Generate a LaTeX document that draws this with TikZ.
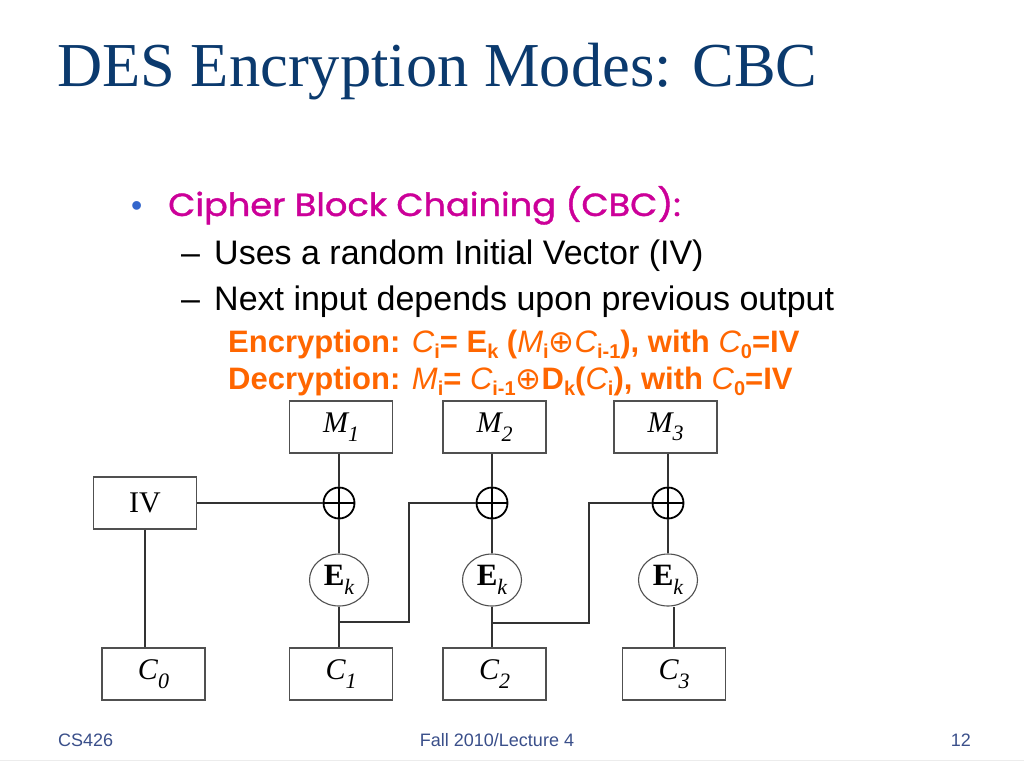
\documentclass[tikz,border=0pt]{standalone}
\usepackage{fontspec}
\setmainfont{Liberation Serif}
\newfontfamily\arialf{Liberation Sans}
\newfontfamily\comicf{Poppins}[FakeBold=1.2]
\newfontfamily\djf{DejaVu Sans}
\usetikzlibrary{shapes.geometric}
\definecolor{titleblue}{HTML}{0B3A6E}
\definecolor{magentac}{HTML}{CC0099}
\definecolor{orangec}{HTML}{FF6600}
\definecolor{bulletblue}{HTML}{3366CC}
\definecolor{footblue}{HTML}{3A4F8A}
\definecolor{boxgray}{HTML}{505050}
\definecolor{linegray}{HTML}{333333}
\newcommand\dsub[1]{\raisebox{-0.28em}{\fontsize{22}{22}\selectfont\itshape #1}}
\newcommand\osub[1]{\raisebox{-0.22em}{\fontsize{20}{20}\selectfont\bfseries #1}}
\tikzset{
  txt/.style={inner sep=0pt, anchor=base west},
  blockbox/.style={draw=boxgray, line width=1.3pt, minimum width=103pt, minimum height=52pt, inner sep=0pt, font=\fontsize{30}{30}\selectfont},
  encnode/.style={ellipse, draw=boxgray, line width=1.1pt, minimum width=59pt, minimum height=52pt, inner sep=0pt, font=\fontsize{31}{31}\selectfont},
  xornode/.style={circle, draw=black, line width=1.8pt, minimum size=31pt, inner sep=0pt,
    path picture={\draw[line width=1.8pt] (path picture bounding box.north) -- (path picture bounding box.south) (path picture bounding box.west) -- (path picture bounding box.east);}},
  wire/.style={draw=linegray, line width=1.3pt},
  foot/.style={inner sep=0pt, font=\arialf\fontsize{18}{18}\selectfont, text=footblue}
}
\begin{document}
\begin{tikzpicture}[x=1pt, y=-1pt]
\useasboundingbox (0,0) rectangle (1024,768);
\fill[white] (0,0) rectangle (1024,768);
% title and text
\node[txt, text=titleblue, font=\fontsize{62.5}{62.5}\selectfont] (title) at (57,86) {DES Encryption Modes: CBC};
\node[txt, text=bulletblue, font=\arialf\fontsize{32}{32}\selectfont] (bul) at (131,216) {•};
\node[txt, text=magentac, font=\comicf\fontsize{32}{32}\selectfont] (cbc) at (168,216) {\scalebox{1.1}[1]{Cipher Block Chaining (CBC):}};
\node[txt, font=\arialf\fontsize{34}{34}\selectfont] (d1) at (181,264) {–};
\node[txt, font=\arialf\fontsize{34}{34}\selectfont] (l1) at (214,264) {Uses a random Initial Vector (IV)};
\node[txt, font=\arialf\fontsize{34}{34}\selectfont] (d2) at (181,310) {–};
\node[txt, font=\arialf\fontsize{34}{34}\selectfont] (l2) at (214,310) {Next input depends upon previous output};
\node[txt, text=orangec, font=\arialf\bfseries\fontsize{31}{31}\selectfont] (enc) at (228,352)
  {Encryption: {\mdseries\itshape C}\osub{i}= E\osub{k} ({\mdseries\itshape M}\osub{i}{\djf\mdseries ⊕}{\mdseries\itshape C}\osub{i-1}), with {\mdseries\itshape C}\osub{0}=IV};
\node[txt, text=orangec, font=\arialf\bfseries\fontsize{31}{31}\selectfont] (dec) at (228,389)
  {Decryption: {\mdseries\itshape M}\osub{i}= {\mdseries\itshape C}\osub{i-1}{\djf\mdseries ⊕}D\osub{k}({\mdseries\itshape C}\osub{i}), with {\mdseries\itshape C}\osub{0}=IV};
% diagram
\node[blockbox] (M1) at (341,427) {\itshape M\dsub{1}};
\node[blockbox] (M2) at (494.5,427) {\itshape M\dsub{2}};
\node[blockbox] (M3) at (665.5,427) {\itshape M\dsub{3}};
\node[blockbox] (IV) at (145,503) {IV};
\node[xornode] (X1) at (339,503) {};
\node[xornode] (X2) at (492,503) {};
\node[xornode] (X3) at (668,503) {};
\node[encnode] (E1) at (339,580) {\textbf{E}\dsub{k}};
\node[encnode] (E2) at (492,580) {\textbf{E}\dsub{k}};
\node[encnode] (E3) at (668,580) {\textbf{E}\dsub{k}};
\node[blockbox] (C0) at (153.5,674) {\itshape C\dsub{0}};
\node[blockbox] (C1) at (341,674) {\itshape C\dsub{1}};
\node[blockbox] (C2) at (494.5,674) {\itshape C\dsub{2}};
\node[blockbox] (C3) at (674,674) {\itshape C\dsub{3}};
\coordinate (j1) at (339,622);
\coordinate (k1) at (409,622);
\coordinate (j2) at (492,623);
\coordinate (k2) at (589,623);
\path[wire] (M1.south -| X1) -- (X1.north);
\path[wire] (M2.south -| X2) -- (X2.north);
\path[wire] (M3.south -| X3) -- (X3.north);
\path[wire] (X1.south) -- (E1.north);
\path[wire] (X2.south) -- (E2.north);
\path[wire] (X3.south) -- (E3.north);
\path[wire] (E1.south) -- (C1.north -| E1);
\path[wire] (E2.south) -- (C2.north -| E2);
\path[wire] (C3.north) -- (C3.north |- E3.south);
\path[wire] (IV.east) -- (X1.west);
\path[wire] (IV.south) -- (IV.south |- C0.north);
\path[wire] (j1) -- (k1) |- (X2.west);
\path[wire] (j2) -- (k2) |- (X3.west);
% footer
\node[foot, anchor=base west] (f1) at (58,746) {CS426};
\node[foot, anchor=base] (f2) at (497,746) {Fall 2010/Lecture 4};
\node[foot, anchor=base east] (f3) at (971,746) {12};
\draw[gray!15, line width=1pt] (0,760) -- (1024,760);
\end{tikzpicture}
\end{document}
